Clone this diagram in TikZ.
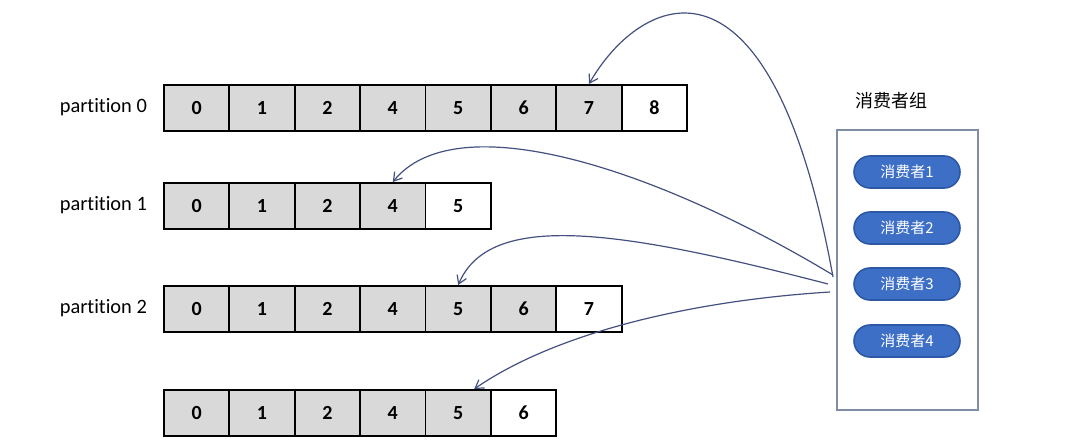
\documentclass[tikz,border=0pt]{standalone}
\usepackage{fontspec}
\setmainfont{Carlito}[Ligatures=NoCommon]
\newfontfamily\cjk{Noto Sans CJK SC}
\usetikzlibrary{arrows.meta}
\definecolor{cellgray}{HTML}{D9D9D9}
\definecolor{pillblue}{HTML}{3D6FC6}
\definecolor{pillline}{HTML}{2C58A6}
\definecolor{boxline}{HTML}{7F8EA3}
\definecolor{arrowline}{HTML}{44507F}
\tikzset{
	cell/.style={draw=black, line width=0.9pt, fill=cellgray, minimum width=32.7pt, minimum height=23pt, inner sep=0pt, anchor=north west, font=\fontsize{10}{12}\selectfont\bfseries},
	freecell/.style={cell, fill=white},
	partlabel/.style={anchor=east, font=\fontsize{10.2}{12}\selectfont},
	consumer/.style={draw=pillline, line width=0.8pt, fill=pillblue, text=white, rounded corners=8pt, minimum width=53pt, minimum height=16pt, inner sep=0pt, font=\cjk\fontsize{7.5}{9}\selectfont},
	fetch/.style={draw=arrowline, line width=0.6pt, -{Straight Barb[length=4pt,width=5pt]}}
}
\begin{document}
\begin{tikzpicture}[x=0.5pt, y=-0.5pt]
	\useasboundingbox (0,0) rectangle (1080,444);
	% partition 0
	\node[partlabel] (lab0) at (154,107) {partition 0};
	\foreach \v [count=\i from 0] in {0,1,2,4,5,6,7}
		\node[cell] (p0c\i) at ({163+65.4*\i},84) {\v};
	\node[freecell] (p0c7) at ({163+65.4*7},84) {8};
	% partition 1
	\node[partlabel] (lab1) at (154,205) {partition 1};
	\foreach \v [count=\i from 0] in {0,1,2,4}
		\node[cell] (p1c\i) at ({163+65.4*\i},182) {\v};
	\node[freecell] (p1c4) at ({163+65.4*4},182) {5};
	% partition 2
	\node[partlabel] (lab2) at (154,308) {partition 2};
	\foreach \v [count=\i from 0] in {0,1,2,4,5,6}
		\node[cell] (p2c\i) at ({163+65.4*\i},285) {\v};
	\node[freecell] (p2c6) at ({163+65.4*6},285) {7};
	% partition 3 (no label)
	\foreach \v [count=\i from 0] in {0,1,2,4,5}
		\node[cell] (p3c\i) at ({163+65.4*\i},389) {\v};
	\node[freecell] (p3c5) at ({163+65.4*5},389) {6};

	% consumer group
	\node[draw=boxline, line width=0.8pt, minimum width=70.5pt, minimum height=140pt, inner sep=0pt] (grp) at (907.5,270) {};
	\node[font=\cjk\fontsize{9}{11}\selectfont] (grptitle) at (891,101) {消费者组};
	\node[consumer] (c1) at (907,172) {消费者1};
	\node[consumer] (c2) at (907,228) {消费者2};
	\node[consumer] (c3) at (907,284) {消费者3};
	\node[consumer] (c4) at (907,341) {消费者4};

	% fetch positions
	\coordinate (s0) at (833,277);
	\coordinate (s1) at (833,275);
	\coordinate (s2) at (828,284);
	\coordinate (s3) at (830,292);
	\draw[fetch] (s0) .. controls (770,-70) and (640,-5) .. (p0c6.north);
	\draw[fetch] (s1) .. controls (650,165) and (455,105) .. (p1c3.north);
	\draw[fetch] (s2) .. controls (620,230) and (490,210) .. (p2c4.north);
	\draw[fetch] (s3) .. controls (700,300) and (560,330) .. ([xshift=8pt]p3c4.north);
\end{tikzpicture}
\end{document}
